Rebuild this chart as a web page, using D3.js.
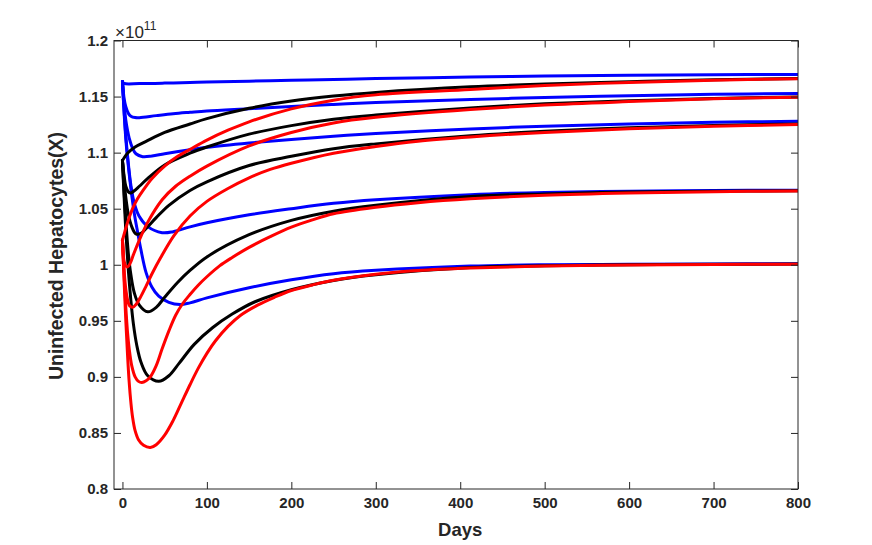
<!DOCTYPE html>
<html>
<head>
<meta charset="utf-8">
<script src="https://cdn.jsdelivr.net/npm/d3@7"></script>
<style>
  html, body { margin: 0; padding: 0; background: #ffffff; }
  svg { display: block; font-family: "Liberation Sans", Arial, Helvetica, sans-serif; }
</style>
</head>
<body>
<svg id="chart" width="872" height="545"></svg>
<script>
// ---------- DATA (values in units of 1e11 cells) ----------
const xTicks = [0, 100, 200, 300, 400, 500, 600, 700, 800];
const xTickLabels = ["0", "100", "200", "300", "400", "500", "600", "700", "800"];
const yTicks = [0.8, 0.85, 0.9, 0.95, 1.0, 1.05, 1.1, 1.15, 1.2];
const yTickLabels = ["0.8", "0.85", "0.9", "0.95", "1", "1.05", "1.1", "1.15", "1.2"];
const xLabel = "Days";
const yLabel = "Uninfected Hepatocytes(X)";

// blue curves (start near 1.163)
const blue1 = [[0,1.1634],[2,1.1617],[20,1.1616],[50,1.1620],[80,1.1626],[100,1.1630],[150,1.1637],[200,1.1645],[250,1.1652],[300,1.1660],[412,1.1674],[500,1.1684],[600,1.1690],[700,1.1695],[800,1.1697]];
const blue2 = [[0,1.1634],[1,1.155],[2,1.148],[4,1.141],[7,1.135],[10,1.1325],[15,1.1313],[20,1.1312],[40,1.1330],[60,1.1347],[80,1.1360],[100,1.1372],[150,1.1392],[200,1.1412],[250,1.1430],[300,1.1447],[412,1.1473],[500,1.1492],[600,1.1508],[700,1.1520],[800,1.1527]];
const blue3 = [[0,1.1634],[1,1.152],[2,1.143],[4,1.129],[6,1.120],[8,1.113],[12,1.104],[16,1.099],[24,1.0964],[35,1.0970],[50,1.0990],[80,1.1025],[100,1.1047],[150,1.1086],[200,1.1118],[250,1.1146],[300,1.1170],[412,1.1211],[500,1.1235],[600,1.1255],[700,1.1270],[800,1.1280]];
const blue4 = [[0,1.1634],[2,1.137],[4,1.115],[7,1.090],[10,1.071],[14,1.055],[20,1.043],[30,1.034],[47,1.0286],[60,1.0295],[80,1.0338],[100,1.0375],[150,1.0446],[200,1.0500],[250,1.0548],[300,1.0580],[412,1.0625],[500,1.0645],[600,1.0655],[700,1.0662],[800,1.0665]];
const blue5 = [[0,1.1634],[2,1.135],[4,1.112],[7,1.088],[10,1.068],[14,1.046],[18,1.029],[22,1.013],[28,0.993],[35,0.980],[43,0.9720],[55,0.9665],[68,0.9645],[80,0.9660],[100,0.9705],[150,0.9795],[200,0.9866],[250,0.9920],[300,0.9950],[412,0.9988],[500,1.0000],[600,1.0004],[700,1.0007],[800,1.0009]];

// black curves (start near 1.093)
const black1 = [[0,1.093],[3,1.0965],[6,1.0995],[15,1.105],[28,1.110],[50,1.118],[80,1.1255],[100,1.1303],[150,1.1395],[200,1.1460],[250,1.1505],[300,1.1537],[412,1.1587],[500,1.1612],[600,1.1633],[700,1.1650],[800,1.1662]];
const black2 = [[0,1.093],[2,1.079],[4,1.070],[7,1.065],[10,1.064],[14,1.066],[20,1.070],[30,1.077],[50,1.089],[80,1.0995],[100,1.1050],[150,1.1165],[200,1.1241],[250,1.1298],[300,1.1335],[412,1.1399],[500,1.1435],[600,1.1462],[700,1.1483],[800,1.1497]];
const black3 = [[0,1.093],[2,1.075],[4,1.060],[7,1.045],[11,1.034],[16,1.0275],[22,1.028],[30,1.034],[40,1.042],[55,1.053],[80,1.0663],[100,1.0740],[150,1.0885],[200,1.0967],[250,1.1035],[300,1.1078],[412,1.1151],[500,1.1190],[600,1.1222],[700,1.1243],[800,1.1255]];
const black4 = [[0,1.093],[2,1.065],[4,1.040],[7,1.010],[10,0.991],[14,0.975],[20,0.964],[30,0.958],[40,0.962],[50,0.971],[65,0.984],[80,0.9949],[100,1.0070],[150,1.0268],[200,1.0396],[250,1.0478],[300,1.0530],[412,1.0608],[500,1.0632],[600,1.0648],[700,1.0656],[800,1.0660]];
const black5 = [[0,1.093],[2,1.060],[4,1.030],[7,0.995],[10,0.968],[13,0.947],[17,0.928],[22,0.913],[30,0.901],[43,0.8960],[55,0.901],[67,0.912],[85,0.929],[107,0.944],[130,0.956],[157,0.967],[200,0.9777],[250,0.9860],[300,0.9910],[412,0.9975],[500,0.9992],[600,1.0000],[700,1.0004],[800,1.0006]];

// red curves (start near 1.022)
const red1 = [[0,1.022],[3,1.030],[7,1.040],[12,1.050],[18,1.059],[25,1.067],[35,1.077],[50,1.088],[65,1.0965],[80,1.1029],[100,1.1112],[125,1.1200],[150,1.1275],[200,1.1390],[250,1.1468],[300,1.1515],[412,1.1562],[500,1.1598],[600,1.1626],[700,1.1646],[800,1.1658]];
const red2 = [[0,1.022],[1,1.010],[2,1.003],[4,0.999],[6,0.998],[9,1.001],[13,1.009],[20,1.022],[30,1.038],[47,1.058],[63,1.070],[80,1.0790],[100,1.0880],[150,1.1060],[200,1.1180],[250,1.1265],[300,1.1315],[412,1.1384],[500,1.1425],[600,1.1455],[700,1.1480],[800,1.1494]];
const red3 = [[0,1.022],[1,1.008],[2,0.995],[4,0.978],[6,0.969],[8,0.964],[10,0.9625],[12,0.962],[16,0.9645],[22,0.972],[28,0.981],[35,0.992],[45,1.006],[61,1.026],[80,1.0435],[100,1.0565],[125,1.0680],[150,1.0775],[175,1.0850],[200,1.0905],[250,1.0995],[300,1.1055],[350,1.1102],[412,1.1140],[500,1.1180],[600,1.1212],[700,1.1235],[800,1.1250]];
const red4 = [[0,1.022],[2,0.990],[4,0.962],[6,0.940],[8,0.925],[11,0.910],[15,0.900],[19,0.896],[23,0.895],[28,0.8965],[33,0.900],[40,0.910],[47,0.925],[55,0.941],[63,0.955],[71,0.965],[80,0.9735],[90,0.982],[100,0.9893],[115,0.999],[130,1.0065],[150,1.0155],[175,1.0250],[200,1.0335],[225,1.0400],[250,1.0455],[300,1.0513],[350,1.0553],[412,1.0588],[500,1.0620],[600,1.0640],[700,1.0652],[800,1.0658]];
const red5 = [[0,1.022],[2,0.985],[4,0.950],[6,0.920],[8,0.895],[10,0.877],[12,0.864],[15,0.852],[19,0.844],[25,0.839],[33,0.837],[40,0.8395],[50,0.848],[60,0.861],[70,0.877],[80,0.893],[90,0.908],[100,0.921],[110,0.932],[125,0.945],[140,0.955],[160,0.964],[180,0.971],[200,0.977],[225,0.982],[250,0.9862],[300,0.9915],[350,0.9948],[412,0.9970],[500,0.9988],[600,0.9998],[700,1.0003],[800,1.0005]];

const seriesList = [
  {data: blue1, color: "#0000ff"}, {data: blue2, color: "#0000ff"}, {data: blue3, color: "#0000ff"},
  {data: blue4, color: "#0000ff"}, {data: blue5, color: "#0000ff"},
  {data: black1, color: "#000000"}, {data: black2, color: "#000000"}, {data: black3, color: "#000000"},
  {data: black4, color: "#000000"}, {data: black5, color: "#000000"},
  {data: red1, color: "#ff0000"}, {data: red2, color: "#ff0000"}, {data: red3, color: "#ff0000"},
  {data: red4, color: "#ff0000"}, {data: red5, color: "#ff0000"}
];

// ---------- LAYOUT ----------
const svg = d3.select("#chart");
const L = 114, R = 798, T = 40.5, B = 489;
const axisColor = "#262626";

const x = d3.scaleLinear().domain([-10, 800]).range([L, R]);
const y = d3.scaleLinear().domain([0.8, 1.2]).range([B, T]);

svg.append("rect").attr("x", L).attr("y", T).attr("width", R - L).attr("height", B - T).attr("fill", "#ffffff");

svg.append("defs").append("clipPath").attr("id", "clip")
  .append("rect").attr("x", L).attr("y", T).attr("width", R - L).attr("height", B - T);

const line = d3.line().x(d => x(d[0])).y(d => y(d[1])).curve(d3.curveCatmullRom.alpha(0.5));

const g = svg.append("g").attr("clip-path", "url(#clip)");
g.selectAll("path.series").data(seriesList).join("path")
  .attr("class", "series")
  .attr("d", d => line(d.data))
  .attr("fill", "none")
  .attr("stroke", d => d.color)
  .attr("stroke-width", 3)
  .attr("stroke-linejoin", "round")
  .attr("stroke-linecap", "round");

// axes
const tickLen = 7;
const fontTick = 15;

function styleAxis(sel) {
  sel.select(".domain").remove();
  sel.selectAll(".tick line").attr("stroke", axisColor).attr("stroke-width", 1);
  sel.selectAll(".tick text").attr("fill", axisColor).attr("font-size", fontTick)
    .attr("font-weight", "bold").attr("font-family", "Liberation Sans, Arial, sans-serif");
}

const xb = svg.append("g").attr("transform", `translate(0,${B})`)
  .call(d3.axisBottom(x).tickValues(xTicks).tickFormat((d, i) => xTickLabels[i]).tickSizeInner(-tickLen).tickSizeOuter(0).tickPadding(8));
styleAxis(xb);

const xt = svg.append("g").attr("transform", `translate(0,${T})`)
  .call(d3.axisTop(x).tickValues(xTicks).tickFormat("").tickSizeInner(-tickLen).tickSizeOuter(0));
styleAxis(xt);

const yl = svg.append("g").attr("transform", `translate(${L},0)`)
  .call(d3.axisLeft(y).tickValues(yTicks).tickFormat((d, i) => yTickLabels[i]).tickSizeInner(-tickLen).tickSizeOuter(0).tickPadding(6));
styleAxis(yl);

const yr = svg.append("g").attr("transform", `translate(${R},0)`)
  .call(d3.axisRight(y).tickValues(yTicks).tickFormat("").tickSizeInner(-tickLen).tickSizeOuter(0));
styleAxis(yr);

svg.append("rect").attr("x", L).attr("y", T).attr("width", R - L).attr("height", B - T)
  .attr("fill", "none").attr("stroke", axisColor).attr("stroke-width", 1);

// exponent label
const ex = svg.append("text").attr("x", L + 1).attr("y", 38).attr("fill", axisColor)
  .attr("font-size", 17).attr("font-family", "Liberation Sans, Arial, sans-serif");
ex.append("tspan").text("\u00d710");
ex.append("tspan").attr("dy", -8).attr("font-size", 12).text("11");

// axis labels
svg.append("text").attr("x", (x(0) + x(800)) / 2).attr("y", 536)
  .attr("text-anchor", "middle").attr("font-size", 18.5).attr("font-weight", "bold")
  .attr("fill", axisColor).text(xLabel);

svg.append("text").attr("transform", `translate(63,256) rotate(-90)`)
  .attr("text-anchor", "middle").attr("font-size", 19.5).attr("font-weight", "bold")
  .attr("fill", axisColor).text(yLabel);
</script>
</body>
</html>
